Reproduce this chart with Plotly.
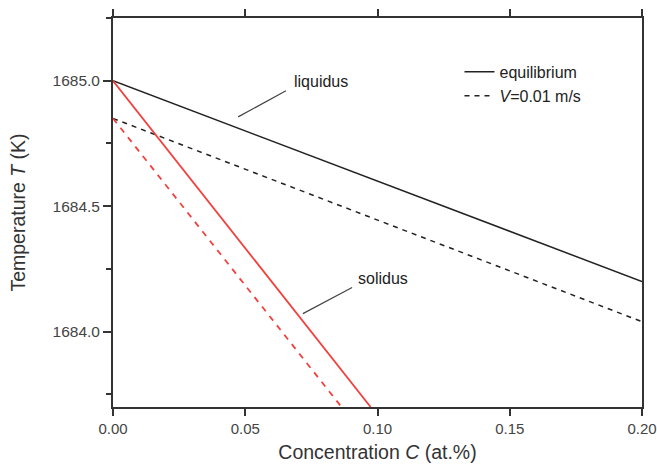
import plotly.graph_objects as go

# Data
conc = [0.0, 0.20]
liq_eq = [1685.0, 1684.2]
liq_v = [1684.85, 1684.04]
sol_conc_eq = [0.0, 0.0974]
sol_eq = [1685.0, 1683.7]
sol_conc_v = [0.0, 0.0864]
sol_v = [1684.85, 1683.7]

RED = "#f2413d"
BLK = "#222222"
FONT = "Liberation Sans, Arial, sans-serif"

fig = go.Figure()
fig.add_trace(go.Scatter(x=conc, y=liq_eq, mode="lines", line=dict(color=BLK, width=1.5),
                         name="equilibrium", showlegend=True))
fig.add_trace(go.Scatter(x=conc, y=liq_v, mode="lines", line=dict(color=BLK, width=1.5, dash="5px,5px"),
                         name="<i>V</i>=0.01 m/s", showlegend=True))
fig.add_trace(go.Scatter(x=sol_conc_eq, y=sol_eq, mode="lines", line=dict(color=RED, width=1.8),
                         showlegend=False))
fig.add_trace(go.Scatter(x=sol_conc_v, y=sol_v, mode="lines", line=dict(color=RED, width=1.8, dash="6px,6px"),
                         showlegend=False))

# leader lines
fig.add_shape(type="line", x0=0.0473, y0=1684.856, x1=0.0654, y1=1684.96,
              line=dict(color="#444", width=1.2))
fig.add_shape(type="line", x0=0.0718, y0=1684.072, x1=0.0904, y1=1684.176,
              line=dict(color="#444", width=1.2))
fig.add_annotation(x=0.0675, y=1684.996, text="liquidus", showarrow=False, xanchor="left",
                   yanchor="middle", font=dict(size=16, color="#222", family=FONT))
fig.add_annotation(x=0.092, y=1684.212, text="solidus", showarrow=False, xanchor="left",
                   yanchor="middle", font=dict(size=16, color="#222", family=FONT))

fig.update_layout(
    width=657, height=470,
    margin=dict(l=113, r=15, t=18, b=63),
    plot_bgcolor="white", paper_bgcolor="white",
    font=dict(family=FONT, size=16, color="#333"),
    legend=dict(x=0.655, y=0.905, xanchor="left", yanchor="top", bgcolor="rgba(0,0,0,0)",
                font=dict(size=16, color="#222"), itemwidth=30, tracegroupgap=0),
)
fig.update_xaxes(
    range=[0, 0.20], tickvals=[0, 0.05, 0.10, 0.15, 0.20],
    ticktext=["0.00", "0.05", "0.10", "0.15", "0.20"],
    ticks="outside", ticklen=7, tickwidth=1.5, tickcolor="#333",
    showline=True, linewidth=1.8, linecolor="#333", mirror="ticks",
    showgrid=False, zeroline=False, automargin=False, ticklabeloverflow="allow",
    title=dict(text="Concentration <i>C</i> (at.%)", font=dict(size=19.5, color="#333"), standoff=9),
    tickfont=dict(size=15, color="#444"),
)
fig.update_yaxes(
    range=[1683.7, 1685.25], tickvals=[1684.0, 1684.5, 1685.0],
    ticktext=["1684.0", "1684.5", "1685.0"],
    ticks="outside", ticklen=8, tickwidth=1.5, tickcolor="#333",
    minor=dict(tickvals=[1683.75, 1684.25, 1684.75, 1685.25], ticks="outside", ticklen=5,
               tickwidth=1.5, tickcolor="#333"),
    showline=True, linewidth=1.8, linecolor="#333", mirror=True,
    showgrid=False, zeroline=False, automargin=False, ticklabeloverflow="allow",
    title=dict(text="Temperature <i>T</i> (K)", font=dict(size=19.5, color="#333"), standoff=22),
    tickfont=dict(size=15.5, color="#444"),
)

fig.write_html("out.html", config={"displayModeBar": False},
               post_script="document.body.style.margin='0';document.body.style.overflow='hidden';")
